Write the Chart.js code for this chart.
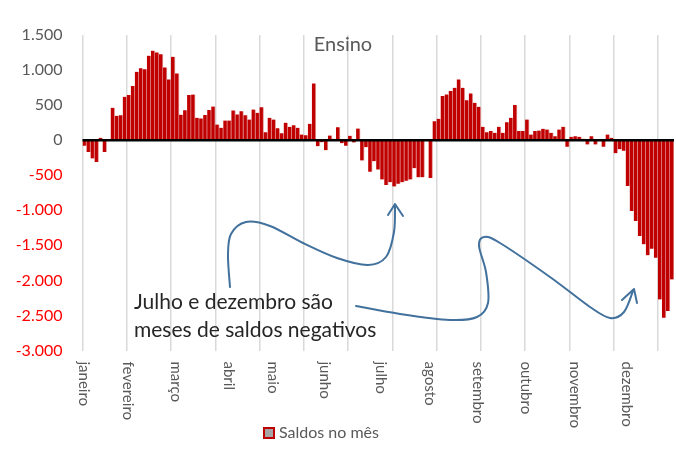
<!DOCTYPE html>
<html lang="pt-BR">
<head>
<meta charset="utf-8">
<title>Ensino - saldos no mês</title>
<script src="https://cdn.jsdelivr.net/npm/chart.js@4.4.1/dist/chart.umd.min.js"></script>
<style>
    html, body { margin: 0; padding: 0; background: #fff; }
    #saldosChart { display: block; }
</style>
</head>
<body>
<canvas id="saldosChart" width="676" height="454"></canvas>
<script>
// Month names, shown on the first bar of each month
const meses = ['janeiro', 'fevereiro', 'março', 'abril', 'maio', 'junho',
    'julho', 'agosto', 'setembro', 'outubro', 'novembro', 'dezembro'];

// Saldos (one value per bar), month by month
const saldosJan = [-80, -167, -262, -310, 33, -167, 10, 462, 348, 357, 619];
const saldosFev = [643, 771, 976, 1024, 1010, 1205, 1276, 1252, 1224, 1038, 867, 1190];
const saldosMar = [952, 364, 425, 645, 650, 318, 310, 360, 432, 480, 224, 176, 281];
const saldosAbr = [281, 424, 367, 414, 357, 295, 438, 390, 471, 114, 319];
const saldosMai = [295, 170, 100, 250, 190, 214, 176, 81, 71, 233, 810, -86, -30];
const saldosJun = [-143, 67, 20, 186, -43, -81, 62, -33, 167, -290, -100, -450, -300, -420];
const saldosJul = [-560, -640, -600, -660, -620, -600, -580, -560, -400, -530, -530, 0];
const saldosAgo = [-540, 271, 305, 629, 653, 700, 748, 867, 748, 571, 667, 533];
const saldosSet = [476, 190, 114, 129, 105, 190, 105, 257, 319, 500, 129, 129];
const saldosOut = [295, 81, 129, 138, 162, 152, 105, 57, 152, 190, -95, 48];
const saldosNov = [57, 48, 19, -62, 57, -62, 10, -95, 81, 33, -186, -129, -150];
const saldosDez = [-652, -1010, -1153, -1367, -1486, -1643, -1550, -1676, -2271, -2533, -2438, -1986];

// Y axis tick values
const yTicks = [1500, 1000, 500, 0, -500, -1000, -1500, -2000, -2500, -3000];

const tituloTexto = 'Ensino';
const legendaTexto = 'Saldos no mês';
const notaLinhas = ['Julho e dezembro são', 'meses de saldos negativos'];

const FONTE = 'Lato, "Liberation Sans", sans-serif';
const CINZA = '#595959';
const GRID_EVERY = 11;

// build category labels + flat data from the month arrays
const saldosPorMes = [saldosJan, saldosFev, saldosMar, saldosAbr, saldosMai, saldosJun,
    saldosJul, saldosAgo, saldosSet, saldosOut, saldosNov, saldosDez];
const labels = [];
const saldos = [];
saldosPorMes.forEach((valores, m) => {
    valores.forEach((v, i) => {
        labels.push(i === 0 ? meses[m] : '');
        saldos.push(v);
    });
});

function formatMilhar(v) {
    const s = String(Math.abs(v)).replace(/\B(?=(\d{3})+(?!\d))/g, '.');
    return v < 0 ? '-' + s : s;
}

// smooth line through points (catmull-rom -> bezier)
function curva(ctx, pts) {
    ctx.beginPath();
    ctx.moveTo(pts[0][0], pts[0][1]);
    for (let i = 0; i < pts.length - 1; i++) {
        const p0 = pts[i - 1] || pts[i];
        const p1 = pts[i];
        const p2 = pts[i + 1];
        const p3 = pts[i + 2] || p2;
        ctx.bezierCurveTo(
            p1[0] + (p2[0] - p0[0]) / 6, p1[1] + (p2[1] - p0[1]) / 6,
            p2[0] - (p3[0] - p1[0]) / 6, p2[1] - (p3[1] - p1[1]) / 6,
            p2[0], p2[1]);
    }
    ctx.stroke();
}

function seta(ctx, tip, a, b) {
    ctx.beginPath();
    ctx.moveTo(a[0], a[1]);
    ctx.lineTo(tip[0], tip[1]);
    ctx.lineTo(b[0], b[1]);
    ctx.stroke();
}

const decoracao = {
    id: 'decoracao',
    afterDatasetsDraw(chart) {
        const {ctx, chartArea, scales: {y}} = chart;
        const y0 = y.getPixelForValue(0);
        ctx.save();
        ctx.strokeStyle = '#000000';
        ctx.lineWidth = 2.5;
        ctx.beginPath();
        ctx.moveTo(chartArea.left, y0);
        ctx.lineTo(chartArea.right, y0);
        ctx.stroke();
        ctx.restore();
    },
    afterDraw(chart) {
        const {ctx, chartArea, scales: {x}} = chart;
        ctx.save();

        // title, overlaid on the plot
        ctx.fillStyle = CINZA;
        ctx.font = '20px ' + FONTE;
        ctx.textAlign = 'center';
        ctx.textBaseline = 'middle';
        ctx.fillText(tituloTexto, 343, 45);

        // month labels, rotated to read top-down
        ctx.font = '15px ' + FONTE;
        ctx.textAlign = 'left';
        labels.forEach((lab, i) => {
            if (!lab) return;
            ctx.save();
            ctx.translate(x.getPixelForValue(i) - 1, chartArea.bottom + 11);
            ctx.rotate(Math.PI / 2);
            ctx.fillText(lab, 0, 0);
            ctx.restore();
        });

        // legend
        ctx.fillStyle = '#A6A6A6';
        ctx.fillRect(264, 428, 10, 10);
        ctx.strokeStyle = '#C00000';
        ctx.lineWidth = 2;
        ctx.strokeRect(264, 428, 10, 10);
        ctx.fillStyle = CINZA;
        ctx.font = '16px ' + FONTE;
        ctx.fillText(legendaTexto, 279, 433);

        // note
        ctx.fillStyle = '#262626';
        ctx.font = '21px ' + FONTE;
        ctx.fillText(notaLinhas[0], 134, 302);
        ctx.fillText(notaLinhas[1], 134, 330);

        // arrows
        ctx.strokeStyle = '#41719C';
        ctx.lineWidth = 2;
        ctx.lineCap = 'round';
        ctx.lineJoin = 'round';
        curva(ctx, [[230, 287], [228, 255], [231, 234], [246, 222], [270, 226], [303, 243],
            [337, 258], [368, 265], [386, 257], [394, 232], [395, 205]]);
        seta(ctx, [395, 204], [388, 215], [403, 216]);
        curva(ctx, [[356, 306], [400, 314], [450, 320], [477, 317], [488, 303], [486, 272],
            [479, 246], [484, 237], [500, 243], [550, 277], [590, 307], [610, 318],
            [624, 312], [633, 291]]);
        seta(ctx, [634, 289], [622, 300], [637, 303]);

        ctx.restore();
    }
};

let saldosChart = null;

function initializeChart() {
    const chartCtx = document.getElementById('saldosChart').getContext('2d');
    if (saldosChart) {
        saldosChart.destroy();
    }

    saldosChart = new Chart(chartCtx, {
        type: 'bar',
        data: {
            labels: labels,
            datasets: [{
                label: legendaTexto,
                data: saldos,
                backgroundColor: '#C00000',
                borderColor: '#E39C9C',
                borderWidth: {top: 0, bottom: 0, left: 0, right: 1},
                borderSkipped: false,
                barPercentage: 1,
                categoryPercentage: 1
            }]
        },
        options: {
            responsive: false,
            animation: false,
            devicePixelRatio: 1,
            layout: {
                padding: {top: 35, right: 2, bottom: 0, left: 0}
            },
            plugins: {
                legend: {display: false},
                title: {display: false},
                tooltip: {enabled: false}
            },
            scales: {
                x: {
                    ticks: {display: false, autoSkip: false},
                    border: {display: false},
                    grid: {
                        drawTicks: false,
                        lineWidth: 1.5,
                        color: function(context) {
                            return context.index % GRID_EVERY === 0 ? '#D9D9D9' : 'rgba(0,0,0,0)';
                        }
                    },
                    afterFit: function(scale) {
                        scale.height = 103.5;
                    }
                },
                y: {
                    min: yTicks[yTicks.length - 1],
                    max: yTicks[0],
                    afterBuildTicks: function(scale) {
                        scale.ticks = yTicks.map(v => ({value: v}));
                    },
                    border: {display: false},
                    grid: {display: false, drawTicks: false},
                    ticks: {
                        padding: 20,
                        font: {family: FONTE, size: 16},
                        color: function(context) {
                            return context.tick && context.tick.value < 0 ? '#FF0000' : CINZA;
                        },
                        callback: function(value) {
                            return formatMilhar(value);
                        }
                    },
                    afterFit: function(scale) {
                        scale.width = 82.5;
                    }
                }
            }
        },
        plugins: [decoracao]
    });
}

initializeChart();
</script>
</body>
</html>
